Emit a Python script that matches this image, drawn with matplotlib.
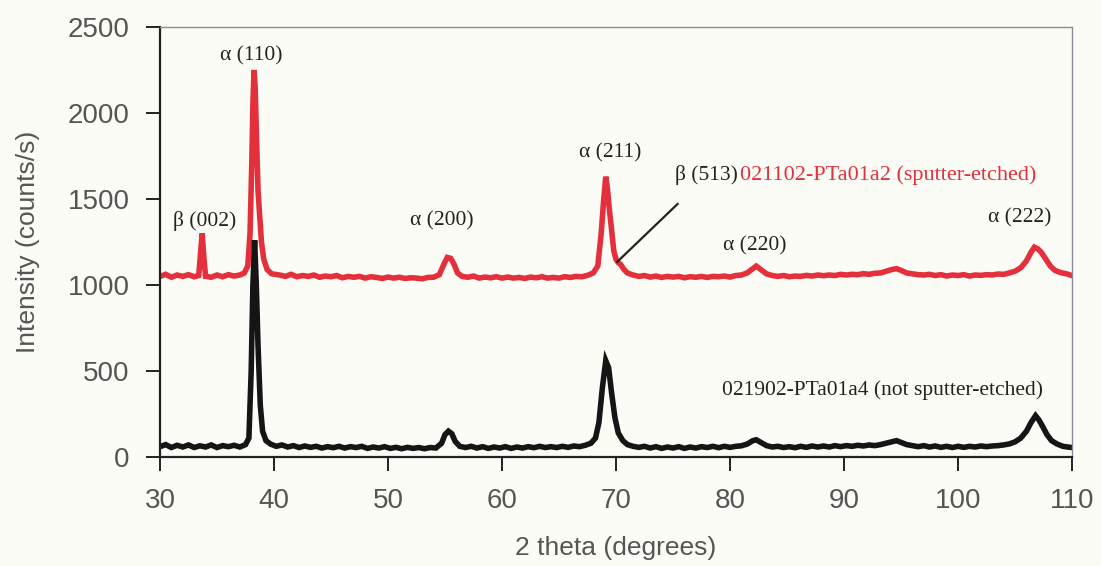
import matplotlib.pyplot as plt

# 021102-PTa01a2 (sputter-etched)
two_theta_red = [30.0, 30.5, 31.0, 31.5, 32.0, 32.5, 33.0, 33.4, 33.55, 33.7, 33.85, 34.0, 34.5, 35.0, 35.5,
                 36.0, 36.5, 37.0, 37.4, 37.7, 37.9, 38.05, 38.15, 38.25, 38.35, 38.45, 38.6, 38.75, 38.9,
                 39.1, 39.4, 39.8, 40.5, 41.0, 41.5, 42.0, 42.5, 43.0, 43.5, 44.0, 44.5, 45.0, 45.5, 46.0,
                 46.5, 47.0, 47.5, 48.0, 48.5, 49.0, 49.5, 50.0, 50.5, 51.0, 51.5, 52.0, 52.5, 53.0, 53.5,
                 54.0, 54.5, 54.9, 55.2, 55.5, 55.8, 56.1, 56.5, 57.0, 57.5, 58.0, 58.5, 59.0, 59.5, 60.0,
                 60.5, 61.0, 61.5, 62.0, 62.5, 63.0, 63.5, 64.0, 64.5, 65.0, 65.5, 66.0, 66.5, 67.0, 67.5,
                 68.0, 68.4, 68.7, 68.9, 69.1, 69.25, 69.4, 69.6, 69.8, 70.0, 70.2, 70.4, 70.7, 71.0, 71.5,
                 72.0, 72.5, 73.0, 73.5, 74.0, 74.5, 75.0, 75.5, 76.0, 76.5, 77.0, 77.5, 78.0, 78.5, 79.0,
                 79.5, 80.0, 80.5, 81.0, 81.5, 82.0, 82.3, 82.7, 83.2, 83.7, 84.2, 84.7, 85.2, 85.7, 86.2,
                 86.7, 87.2, 87.7, 88.2, 88.7, 89.2, 89.7, 90.2, 90.7, 91.2, 91.7, 92.2, 92.7, 93.2, 93.7,
                 94.2, 94.6, 95.0, 95.5, 96.0, 96.5, 97.0, 97.5, 98.0, 98.5, 99.0, 99.5, 100.0, 100.5,
                 101.0, 101.5, 102.0, 102.5, 103.0, 103.5, 104.0, 104.5, 105.0, 105.5, 106.0, 106.4, 106.7,
                 107.0, 107.3, 107.7, 108.1, 108.5, 109.0, 109.5, 110.0]
counts_red = [1050, 1062, 1045, 1058, 1050, 1060, 1048, 1055, 1180, 1300, 1160, 1050, 1045, 1058, 1048,
              1060, 1052, 1058, 1070, 1110, 1300, 1700, 2050, 2250, 2150, 1900, 1550, 1400, 1250,
              1150, 1090, 1065, 1058, 1050, 1062, 1048, 1055, 1050, 1058, 1045, 1052, 1048, 1055, 1042,
              1050, 1045, 1050, 1040, 1048, 1044, 1038, 1046, 1040, 1045, 1038, 1042, 1040, 1036, 1044,
              1045, 1060, 1120, 1160, 1155, 1120, 1070, 1050, 1045, 1052, 1040, 1046, 1042, 1048, 1040,
              1046, 1040, 1044, 1038, 1046, 1042, 1048, 1040, 1044, 1040, 1048, 1044, 1050, 1048, 1056,
              1070, 1110, 1300, 1480, 1630, 1560, 1450, 1330, 1200, 1150, 1130, 1120, 1090, 1070, 1058,
              1050, 1055, 1046, 1052, 1044, 1050, 1046, 1050, 1042, 1048, 1045, 1050, 1044, 1050, 1048,
              1052, 1046, 1055, 1058, 1070, 1095, 1110, 1090, 1065, 1055, 1050, 1055, 1048, 1052, 1050,
              1056, 1052, 1058, 1054, 1058, 1055, 1062, 1058, 1062, 1060, 1066, 1062, 1068, 1070, 1080,
              1090, 1095, 1085, 1070, 1065, 1060, 1058, 1062, 1055, 1060, 1052, 1058, 1055, 1060,
              1052, 1058, 1056, 1060, 1058, 1064, 1062, 1070, 1080, 1100, 1140, 1190, 1220,
              1210, 1190, 1150, 1110, 1085, 1072, 1065, 1055]

# 021902-PTa01a4 (not sputter-etched)
two_theta_blk = [30.0, 30.5, 31.0, 31.5, 32.0, 32.5, 33.0, 33.5, 34.0, 34.5, 35.0, 35.5, 36.0, 36.5, 37.0,
                 37.5, 37.8, 38.0, 38.15, 38.3, 38.45, 38.6, 38.8, 39.0, 39.3, 39.7, 40.2, 40.7, 41.2, 41.7,
                 42.2, 42.7, 43.2, 43.7, 44.2, 44.7, 45.2, 45.7, 46.2, 46.7, 47.2, 47.7, 48.2, 48.7, 49.2,
                 49.7, 50.2, 50.7, 51.2, 51.7, 52.2, 52.7, 53.2, 53.7, 54.2, 54.7, 55.0, 55.3, 55.6, 55.9,
                 56.3, 56.8, 57.3, 57.8, 58.3, 58.8, 59.3, 59.8, 60.3, 60.8, 61.3, 61.8, 62.3, 62.8, 63.3,
                 63.8, 64.3, 64.8, 65.3, 65.8, 66.3, 66.8, 67.3, 67.8, 68.2, 68.5, 68.8, 69.1, 69.35, 69.6,
                 69.9, 70.2, 70.6, 71.0, 71.5, 72.0, 72.5, 73.0, 73.5, 74.0, 74.5, 75.0, 75.5, 76.0, 76.5,
                 77.0, 77.5, 78.0, 78.5, 79.0, 79.5, 80.0, 80.5, 81.0, 81.5, 82.0, 82.3, 82.7, 83.2, 83.7,
                 84.2, 84.7, 85.2, 85.7, 86.2, 86.7, 87.2, 87.7, 88.2, 88.7, 89.2, 89.7, 90.2, 90.7, 91.2,
                 91.7, 92.2, 92.7, 93.2, 93.7, 94.2, 94.6, 95.0, 95.5, 96.0, 96.5, 97.0, 97.5, 98.0, 98.5,
                 99.0, 99.5, 100.0, 100.5, 101.0, 101.5, 102.0, 102.5, 103.0, 103.5, 104.0, 104.5, 105.0,
                 105.5, 106.0, 106.4, 106.8, 107.1, 107.4, 107.8, 108.2, 108.7, 109.2, 109.6, 110.0]
counts_blk = [60, 72, 55, 68, 58, 70, 55, 65, 58, 70, 55, 66, 60, 68, 58,
              72, 110, 500, 1000, 1260, 1000, 650, 300, 150, 95, 75, 62, 70, 58, 66,
              55, 64, 56, 62, 52, 60, 54, 62, 52, 60, 55, 62, 50, 58, 52,
              60, 50, 56, 48, 56, 50, 55, 48, 55, 52, 80, 130, 150, 135, 90,
              62, 55, 62, 52, 60, 50, 58, 52, 60, 50, 58, 52, 60, 54, 62,
              55, 60, 55, 62, 56, 64, 60, 68, 80, 110, 200, 400, 560, 520, 380,
              230, 140, 95, 72, 62, 56, 62, 52, 60, 50, 58, 52, 60, 50, 58,
              52, 60, 55, 62, 54, 62, 56, 62, 65, 75, 95, 100, 85, 66, 58,
              62, 55, 60, 54, 62, 56, 64, 58, 64, 58, 66, 60, 66, 62, 68,
              64, 70, 66, 72, 80, 88, 95, 85, 72, 66, 60, 66, 58, 64, 56,
              62, 55, 62, 56, 62, 58, 64, 60, 64, 66, 70, 76, 88,
              110, 150, 200, 240, 215, 180, 130, 95, 75, 62, 58, 55]

# peak labels: (text, 2theta, intensity)
peak_labels = [("α (110)", 38.0, 2330), ("β (002)", 33.9, 1370), ("α (200)", 54.7, 1370),
               ("α (211)", 69.5, 1770), ("β (513)", 77.9, 1640), ("α (220)", 82.2, 1230),
               ("α (222)", 105.4, 1390)]

bg = "#fcfcf7"
red = "#e3303c"
grey_txt = "#555555"

fig = plt.figure(figsize=(11.01, 5.66), dpi=100, facecolor=bg)
ax = fig.add_axes([0.1453, 0.1926, 0.8284, 0.7597], facecolor=bg)

ax.plot(two_theta_red, counts_red, color=red, lw=4, solid_joinstyle="miter")
ax.plot(two_theta_blk, counts_blk, color="#151515", lw=4, solid_joinstyle="miter")

ax.set_xlim(30, 110)
ax.set_ylim(0, 2500)
ax.set_xticks(range(30, 111, 10))
ax.set_yticks(range(0, 2501, 500))

for s in ["left", "bottom"]:
    ax.spines[s].set_color("#222222")
    ax.spines[s].set_linewidth(1.6)
for s in ["top", "right"]:
    ax.spines[s].set_color("#8a8a9a")
    ax.spines[s].set_linewidth(1.0)
    ax.spines[s].set_linestyle((0, (2, 1)))

ax.tick_params(direction="out", length=10, width=1.4, color="#222222",
               labelsize=20, labelcolor=grey_txt)
ax.tick_params(axis="x", pad=12)
ax.tick_params(axis="y", pad=12)
for lbl in ax.get_xticklabels() + ax.get_yticklabels():
    lbl.set_family("Liberation Sans")

ax.set_xlabel("2 theta (degrees)", fontsize=19, color=grey_txt, family="Liberation Sans", labelpad=16)
ax.set_ylabel("Intensity (counts/s)", fontsize=19, color=grey_txt, family="Liberation Sans", labelpad=20)

for txt, xx, yy in peak_labels:
    ax.text(xx, yy, txt, ha="center", va="center", fontsize=15.5,
            family="Liberation Serif", color="#222222")

# leader line for beta (513) shoulder
ax.plot([70.1, 75.4], [1134, 1471], color="#222222", lw=1.6)

ax.text(80.9, 1640, "021102-PTa01a2 (sputter-etched)", ha="left", va="center",
        fontsize=16, family="Liberation Serif", color=red)
ax.text(79.3, 390, "021902-PTa01a4 (not sputter-etched)", ha="left", va="center",
        fontsize=15.5, family="Liberation Serif", color="#222222")

fig.savefig("out.png", dpi=100, facecolor=bg)
